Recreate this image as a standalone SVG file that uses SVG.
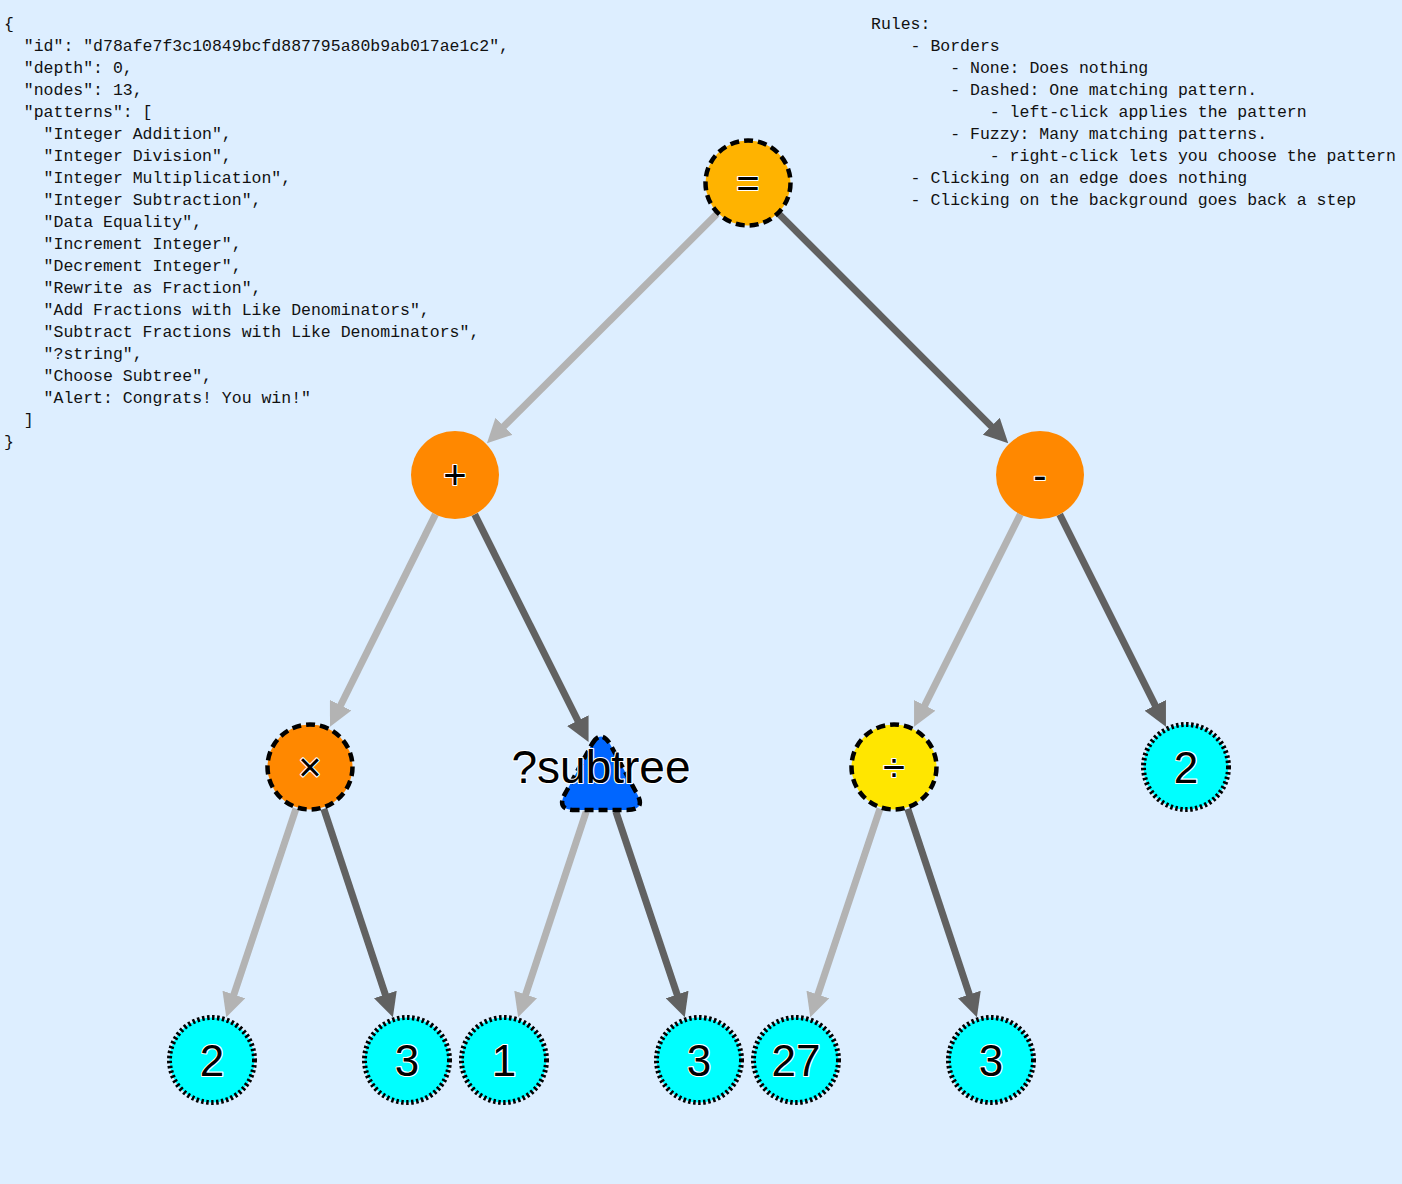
<svg xmlns="http://www.w3.org/2000/svg" width="1402" height="1184" viewBox="0 0 1402 1184">
<style>
.mono{font-family:"Liberation Mono","DejaVu Sans Mono",monospace;font-size:16.5px;fill:#111;white-space:pre}
.edge{stroke-width:7;fill:none}
.light{stroke:#b3b3b3}
.dark{stroke:#616161}
.lbl{font-family:"Liberation Sans",Arial,sans-serif;fill:#000;stroke:#fff;stroke-width:2.2;paint-order:stroke;stroke-linejoin:round;text-anchor:middle;dominant-baseline:central}
.op{font-size:40px}
.num{font-size:44px}
.dashed{stroke:#000;stroke-width:4.5;stroke-dasharray:9 5}
.dotted{stroke:#000;stroke-width:5;stroke-dasharray:2.5 2.5}
</style>
<defs>
<marker id="ahL" viewBox="0 0 24 24" markerWidth="24" markerHeight="24" markerUnits="userSpaceOnUse" refX="4" refY="12" orient="auto"><path d="M0,0 L24,12 L0,24 z" fill="#b3b3b3"/></marker>
<marker id="ahD" viewBox="0 0 24 24" markerWidth="24" markerHeight="24" markerUnits="userSpaceOnUse" refX="4" refY="12" orient="auto"><path d="M0,0 L24,12 L0,24 z" fill="#616161"/></marker>
</defs>
<rect width="1402" height="1184" fill="#ddeeff"/>
<g id="json">
<text class="mono" x="4" y="29">{</text>
<text class="mono" x="4" y="51">  "id": "d78afe7f3c10849bcfd887795a80b9ab017ae1c2",</text>
<text class="mono" x="4" y="73">  "depth": 0,</text>
<text class="mono" x="4" y="95">  "nodes": 13,</text>
<text class="mono" x="4" y="117">  "patterns": [</text>
<text class="mono" x="4" y="139">    "Integer Addition",</text>
<text class="mono" x="4" y="161">    "Integer Division",</text>
<text class="mono" x="4" y="183">    "Integer Multiplication",</text>
<text class="mono" x="4" y="205">    "Integer Subtraction",</text>
<text class="mono" x="4" y="227">    "Data Equality",</text>
<text class="mono" x="4" y="249">    "Increment Integer",</text>
<text class="mono" x="4" y="271">    "Decrement Integer",</text>
<text class="mono" x="4" y="293">    "Rewrite as Fraction",</text>
<text class="mono" x="4" y="315">    "Add Fractions with Like Denominators",</text>
<text class="mono" x="4" y="337">    "Subtract Fractions with Like Denominators",</text>
<text class="mono" x="4" y="359">    "?string",</text>
<text class="mono" x="4" y="381">    "Choose Subtree",</text>
<text class="mono" x="4" y="403">    "Alert: Congrats! You win!"</text>
<text class="mono" x="4" y="425">  ]</text>
<text class="mono" x="4" y="447">}</text>
</g>
<g id="rules">
<text class="mono" x="871" y="29">Rules:</text>
<text class="mono" x="871" y="51">    - Borders</text>
<text class="mono" x="871" y="73">        - None: Does nothing</text>
<text class="mono" x="871" y="95">        - Dashed: One matching pattern.</text>
<text class="mono" x="871" y="117">            - left-click applies the pattern</text>
<text class="mono" x="871" y="139">        - Fuzzy: Many matching patterns.</text>
<text class="mono" x="871" y="161">            - right-click lets you choose the pattern</text>
<text class="mono" x="871" y="183">    - Clicking on an edge does nothing</text>
<text class="mono" x="871" y="205">    - Clicking on the background goes back a step</text>
</g>
<g id="connectors">
<line class="edge light" x1="716.8" y1="214.1" x2="501.1" y2="429.1" marker-end="url(#ahL)"/>
<line class="edge dark" x1="779.1" y1="214.1" x2="994.1" y2="429.1" marker-end="url(#ahD)"/>
<line class="edge light" x1="435.4" y1="514.4" x2="338.9" y2="708.8" marker-end="url(#ahL)"/>
<line class="edge dark" x1="474.7" y1="514.4" x2="579.6" y2="724.1" marker-end="url(#ahD)"/>
<line class="edge light" x1="1020.3" y1="514.4" x2="923.0" y2="708.9" marker-end="url(#ahL)"/>
<line class="edge dark" x1="1059.7" y1="514.4" x2="1157.0" y2="708.9" marker-end="url(#ahD)"/>
<line class="edge light" x1="296.0" y1="808.7" x2="232.6" y2="998.3" marker-end="url(#ahL)"/>
<line class="edge dark" x1="323.8" y1="808.8" x2="386.6" y2="998.3" marker-end="url(#ahD)"/>
<line class="edge light" x1="586.2" y1="811.6" x2="524.4" y2="998.3" marker-end="url(#ahL)"/>
<line class="edge dark" x1="615.9" y1="811.6" x2="678.4" y2="998.3" marker-end="url(#ahD)"/>
<line class="edge light" x1="880.0" y1="808.7" x2="816.6" y2="998.3" marker-end="url(#ahL)"/>
<line class="edge dark" x1="907.8" y1="808.8" x2="970.6" y2="998.3" marker-end="url(#ahD)"/>
</g>
<g id="node-eq">
<circle cx="748" cy="183" r="42.5" fill="#ffb300" class="dashed"/>
<text class="lbl op" x="748" y="183">=</text>
</g>
<g id="node-plus">
<circle cx="455" cy="475" r="44" fill="#ff8800"/>
<text class="lbl op" x="455" y="475">+</text>
</g>
<g id="node-minus">
<circle cx="1040" cy="475" r="44" fill="#ff8800"/>
<text class="lbl op" x="1040" y="475">-</text>
</g>
<g id="node-times">
<circle cx="310" cy="767" r="42.5" fill="#ff8800" class="dashed"/>
<text class="lbl op" x="310" y="767">×</text>
</g>
<g id="node-subtree">
<path d="M592,744 Q601,729 610,744 L636,792 Q647,810 627,810 L575,810 Q555,810 566,792 Z" fill="#0066ff" class="dashed" stroke-linejoin="round"/>
<text class="lbl" x="601" y="767" style="font-size:46px">?subtree</text>
</g>
<g id="node-div">
<circle cx="894" cy="767" r="42.5" fill="#ffe600" class="dashed"/>
<text class="lbl op" x="894" y="767">÷</text>
</g>
<g id="node-2r">
<circle cx="1186" cy="767" r="42.5" fill="#00ffff" class="dotted"/>
<text class="lbl num" x="1186" y="767">2</text>
</g>
<g id="leaf-2">
<circle cx="212" cy="1060" r="42.5" fill="#00ffff" class="dotted"/>
<text class="lbl num" x="212" y="1060">2</text>
</g>
<g id="leaf-3a">
<circle cx="407" cy="1060" r="42.5" fill="#00ffff" class="dotted"/>
<text class="lbl num" x="407" y="1060">3</text>
</g>
<g id="leaf-1">
<circle cx="504" cy="1060" r="42.5" fill="#00ffff" class="dotted"/>
<text class="lbl num" x="504" y="1060">1</text>
</g>
<g id="leaf-3b">
<circle cx="699" cy="1060" r="42.5" fill="#00ffff" class="dotted"/>
<text class="lbl num" x="699" y="1060">3</text>
</g>
<g id="leaf-27">
<circle cx="796" cy="1060" r="42.5" fill="#00ffff" class="dotted"/>
<text class="lbl num" x="796" y="1060">27</text>
</g>
<g id="leaf-3c">
<circle cx="991" cy="1060" r="42.5" fill="#00ffff" class="dotted"/>
<text class="lbl num" x="991" y="1060">3</text>
</g>
</svg>
